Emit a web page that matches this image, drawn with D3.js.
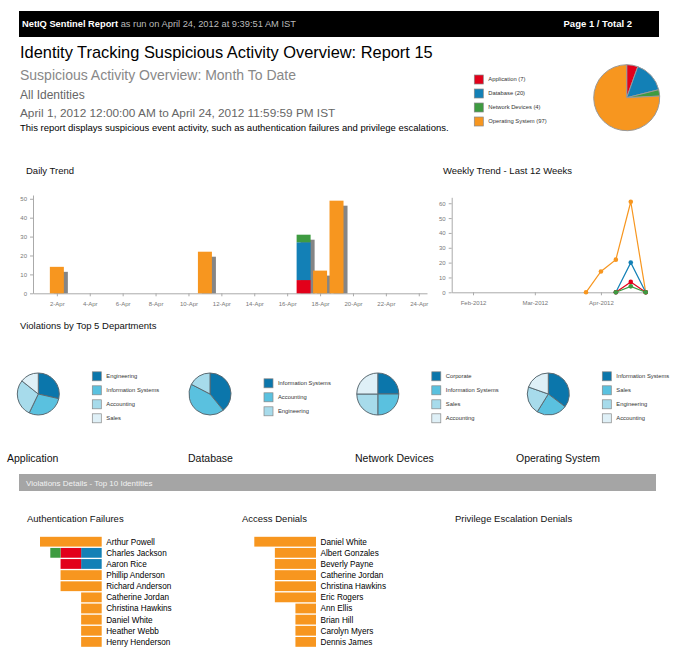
<!DOCTYPE html>
<html>
<head>
<meta charset="utf-8">
<script src="https://cdn.jsdelivr.net/npm/d3@7"></script>
<style>
  body { margin: 0; background: #fff; }
  svg { font-family: 'Liberation Sans', Arial, sans-serif; }
  .axis path, .axis line { stroke: #aaa; }
  .axis text { fill: #777; font-size: 6px; }
</style>
</head>
<body>
<svg width="675" height="657"></svg>
<script>
// categories and totals
const categories = ['Application', 'Database', 'Network Devices', 'Operating System'];
const categoryTotals = [7, 20, 4, 97];
const categoryColors = ['#e2001a', '#1380b6', '#3e9b41', '#f7961f'];

// daily trend (day of April)
const dailyDays = [2, 11, 17, 18, 19];
const dailyApp = [0, 0, 7, 0, 0];
const dailyDb = [0, 0, 20, 0, 0];
const dailyNet = [0, 0, 4, 0, 0];
const dailyOs = [14, 22, 0, 12, 49];
const dailyTicks = [2, 4, 6, 8, 10, 12, 14, 16, 18, 20, 22, 24];

// weekly trend
const weekDates = ['2012-03-25', '2012-04-01', '2012-04-08', '2012-04-15', '2012-04-22'];
const weeklyApp = [null, null, 0, 7, 0];
const weeklyDb = [null, null, 0, 20, 0];
const weeklyNet = [null, null, 0, 4, 0];
const weeklyOs = [0, 14, 22, 61, 0];

// departments
const appDepts = ['Engineering', 'Information Systems', 'Accounting', 'Sales'];
const appDeptValues = [2, 2, 2, 1];
const dbDepts = ['Information Systems', 'Accounting', 'Engineering'];
const dbDeptValues = [9, 10, 4];
const netDepts = ['Corporate', 'Information Systems', 'Sales', 'Accounting'];
const netDeptValues = [1, 1, 1, 1];
const osDepts = ['Information Systems', 'Sales', 'Engineering', 'Accounting'];
const osDeptValues = [18, 12, 11, 10];
const deptColors = ['#0b76ab', '#5ac1df', '#a7dbeb', '#dff0f7'];

// top identities
const authNames = ['Arthur Powell', 'Charles Jackson', 'Aaron Rice', 'Phillip Anderson', 'Richard Anderson',
  'Catherine Jordan', 'Christina Hawkins', 'Daniel White', 'Heather Webb', 'Henry Henderson'];
const authApp = [0, 2, 2, 0, 0, 0, 0, 0, 0, 0];
const authDb = [0, 2, 2, 0, 0, 0, 0, 0, 0, 0];
const authNet = [0, 1, 0, 0, 0, 0, 0, 0, 0, 0];
const authOs = [6, 0, 0, 4, 4, 2, 2, 2, 2, 2];
const accessNames = ['Daniel White', 'Albert Gonzales', 'Beverly Payne', 'Catherine Jordan', 'Christina Hawkins',
  'Eric Rogers', 'Ann Ellis', 'Brian Hill', 'Carolyn Myers', 'Dennis James'];
const accessOs = [6, 4, 4, 4, 4, 4, 2, 2, 2, 2];

const svg = d3.select('svg');

// ---- header ----
svg.append('rect').attr('x', 19).attr('y', 11).attr('width', 640).attr('height', 26).attr('fill', '#000');
const hdr = svg.append('text').attr('x', 22).attr('y', 27).attr('font-size', 9.3).attr('font-weight', 'bold');
hdr.append('tspan').attr('fill', '#fff').text('NetIQ Sentinel Report');
hdr.append('tspan').attr('fill', '#bbb').attr('font-weight', 'normal').text(' as run on April 24, 2012 at 9:39:51 AM IST');
svg.append('text').attr('x', 632).attr('y', 27).attr('text-anchor', 'end').attr('font-size', 9.5)
  .attr('font-weight', 'bold').attr('fill', '#fff').text('Page 1 / Total 2');

svg.append('text').attr('x', 20).attr('y', 58).attr('font-size', 16.4).attr('fill', '#000')
  .text('Identity Tracking Suspicious Activity Overview: Report 15');
svg.append('text').attr('x', 20).attr('y', 80).attr('font-size', 14).attr('fill', '#888')
  .text('Suspicious Activity Overview: Month To Date');
svg.append('text').attr('x', 20).attr('y', 99).attr('font-size', 12).attr('fill', '#666')
  .text('All Identities');
svg.append('text').attr('x', 20).attr('y', 117).attr('font-size', 11.8).attr('fill', '#666')
  .text('April 1, 2012 12:00:00 AM to April 24, 2012 11:59:59 PM IST');
svg.append('text').attr('x', 20).attr('y', 131).attr('font-size', 9.5).attr('fill', '#000')
  .text('This report displays suspicious event activity, such as authentication failures and privilege escalations.');

// ---- pie helper ----
function drawPie(cx, cy, r, names, values, colors, legX, legCy, labelFn, stroke) {
  const pie = d3.pie().sort(null);
  const arc = d3.arc().innerRadius(0).outerRadius(r);
  const pg = svg.append('g').attr('transform', 'translate(' + cx + ',' + cy + ')');
  pg.selectAll('path')
    .data(pie(values))
    .enter()
    .append('path')
    .attr('d', arc)
    .attr('fill', function (d, i) { return colors[i]; })
    .attr('stroke', stroke)
    .attr('stroke-width', 1);

  const step = 14;
  const y0 = legCy - (names.length - 1) * step / 2;
  const lg = svg.append('g').selectAll('g')
    .data(names)
    .enter()
    .append('g')
    .attr('transform', function (d, i) { return 'translate(' + legX + ',' + (y0 + i * step) + ')'; });
  lg.append('rect')
    .attr('x', 0).attr('y', -4.5).attr('width', 9).attr('height', 9)
    .attr('fill', function (d, i) { return colors[i]; })
    .attr('stroke', '#888').attr('stroke-width', 0.7);
  lg.append('text')
    .attr('x', 14).attr('dy', '0.32em')
    .attr('font-size', 5.8).attr('fill', '#333')
    .text(function (d, i) { return labelFn(d, i); });
}

// top summary pie
drawPie(626.7, 97.7, 33, categories, categoryTotals, categoryColors, 474.3, 100.5,
  function (d, i) { return d + ' (' + categoryTotals[i] + ')'; }, '#999');

// ---- daily trend ----
svg.append('text').attr('x', 26).attr('y', 174).attr('font-size', 9.5).attr('fill', '#111').text('Daily Trend');

const xDay = d3.scaleLinear().domain([0.55, 24.5]).range([33, 427]);
const yDay = d3.scaleLinear().domain([0, 52]).range([293.3, 195]);

svg.append('g').attr('class', 'axis').attr('transform', 'translate(0,293.3)')
  .call(d3.axisBottom(xDay).tickValues(dailyTicks).tickSize(3).tickSizeOuter(0)
    .tickFormat(function (d) { return d + '-Apr'; }))
  .selectAll('text').attr('dy', '1.1em');
svg.append('g').attr('class', 'axis').attr('transform', 'translate(33,0)')
  .call(d3.axisLeft(yDay).tickValues([0, 10, 20, 30, 40, 50]).tickSize(3).tickSizeOuter(0));

const dailyStack = d3.stack().keys([0, 1, 2, 3])
  .value(function (d, k) { return d[k]; })(dailyDays.map(function (day, i) {
    return [dailyApp[i], dailyDb[i], dailyNet[i], dailyOs[i]];
  }));
const barW = 14;
// shadows
svg.append('g').selectAll('rect')
  .data(dailyDays)
  .enter()
  .append('rect')
  .attr('x', function (d) { return xDay(d) - barW / 2 + 4; })
  .attr('y', function (d, i) { return yDay(dailyApp[i] + dailyDb[i] + dailyNet[i] + dailyOs[i]) + 5; })
  .attr('width', barW)
  .attr('height', function (d, i) { return yDay(0) - yDay(dailyApp[i] + dailyDb[i] + dailyNet[i] + dailyOs[i]) - 5; })
  .attr('fill', '#858585');
dailyStack.forEach(function (layer, k) {
  svg.append('g').selectAll('rect')
    .data(layer)
    .enter()
    .append('rect')
    .attr('x', function (d, i) { return xDay(dailyDays[i]) - barW / 2; })
    .attr('y', function (d) { return yDay(d[1]); })
    .attr('width', barW)
    .attr('height', function (d) { return yDay(d[0]) - yDay(d[1]); })
    .attr('fill', categoryColors[k]);
});

// ---- weekly trend ----
svg.append('text').attr('x', 443).attr('y', 174).attr('font-size', 9.5).attr('fill', '#111')
  .text('Weekly Trend - Last 12 Weeks');
const parse = d3.timeParse('%Y-%m-%d');
const xWeek = d3.scaleTime().domain([parse('2012-01-22'), parse('2012-04-22')]).range([451.7, 645.7]);
const yWeek = d3.scaleLinear().domain([0, 64]).range([292.3, 197.3]);
svg.append('g').attr('class', 'axis').attr('transform', 'translate(0,292.3)')
  .call(d3.axisBottom(xWeek).ticks(d3.timeMonth.every(1)).tickSize(3).tickSizeOuter(0)
    .tickFormat(d3.timeFormat('%b-%Y')))
  .selectAll('text').attr('dy', '1.1em');
svg.append('g').attr('class', 'axis').attr('transform', 'translate(451.7,0)')
  .call(d3.axisLeft(yWeek).tickValues([0, 10, 20, 30, 40, 50, 60]).tickSize(3).tickSizeOuter(0));

const weeklySeries = [weeklyNet, weeklyApp, weeklyDb, weeklyOs];
const weeklyColors = [categoryColors[2], categoryColors[0], categoryColors[1], categoryColors[3]];
const line = d3.line()
  .defined(function (d) { return d != null; })
  .x(function (d, i) { return xWeek(parse(weekDates[i])); })
  .y(function (d) { return yWeek(d); });
weeklySeries.slice().reverse().forEach(function (s, j) {
  const col = weeklyColors[weeklySeries.length - 1 - j];
  svg.append('path').attr('d', line(s)).attr('fill', 'none').attr('stroke', col).attr('stroke-width', 1.2);
  svg.append('g').selectAll('circle')
    .data(s.map(function (v, i) { return { v: v, i: i }; }).filter(function (d) { return d.v != null; }))
    .enter()
    .append('circle')
    .attr('cx', function (d) { return xWeek(parse(weekDates[d.i])); })
    .attr('cy', function (d) { return yWeek(d.v); })
    .attr('r', 2.3)
    .attr('fill', col);
});

// ---- department pies ----
svg.append('text').attr('x', 20).attr('y', 329).attr('font-size', 9.5).attr('fill', '#111')
  .text('Violations by Top 5 Departments');
const deptSets = [
  { names: appDepts, values: appDeptValues, cx: 38.3 },
  { names: dbDepts, values: dbDeptValues, cx: 210 },
  { names: netDepts, values: netDeptValues, cx: 377.8 },
  { names: osDepts, values: osDeptValues, cx: 548.3 }
];
deptSets.forEach(function (s) {
  drawPie(s.cx, 394, 21, s.names, s.values, deptColors, s.cx + 54, 397.3,
    function (d) { return d; }, '#5a6a72');
});
const catLabelX = [7, 188, 355, 516];
categories.forEach(function (c, i) {
  svg.append('text').attr('x', catLabelX[i]).attr('y', 462).attr('font-size', 10.5).attr('fill', '#111').text(c);
});

// ---- violations details ----
svg.append('rect').attr('x', 19).attr('y', 474).attr('width', 637).attr('height', 17).attr('fill', '#a5a5a5');
svg.append('text').attr('x', 26).attr('y', 486).attr('font-size', 8).attr('fill', '#f2f2f2')
  .text('Violations Details - Top 10 Identities');

svg.append('text').attr('x', 27).attr('y', 522).attr('font-size', 9.5).attr('fill', '#111').text('Authentication Failures');
svg.append('text').attr('x', 242).attr('y', 522).attr('font-size', 9.5).attr('fill', '#111').text('Access Denials');
svg.append('text').attr('x', 455).attr('y', 522).attr('font-size', 9.5).attr('fill', '#111').text('Privilege Escalation Denials');

const xLen = d3.scaleLinear().domain([0, 6]).range([0, 61.7]);
const yRow = d3.scaleBand().domain(d3.range(10)).range([536.8, 646.8]).paddingInner(0.12);

function drawBarList(right, names, layers, colors) {
  const stack = d3.stack().keys(d3.range(layers.length))
    .value(function (d, k) { return d[k]; })(names.map(function (n, i) {
      return layers.map(function (l) { return l[i]; });
    }));
  stack.forEach(function (layer, k) {
    svg.append('g').selectAll('rect')
      .data(layer)
      .enter()
      .append('rect')
      .attr('x', function (d) { return right - xLen(d[1]); })
      .attr('y', function (d, i) { return yRow(i); })
      .attr('width', function (d) { return xLen(d[1]) - xLen(d[0]); })
      .attr('height', yRow.bandwidth())
      .attr('fill', colors[k]);
  });
  svg.append('g').selectAll('text')
    .data(names)
    .enter()
    .append('text')
    .attr('x', right + 4.5)
    .attr('y', function (d, i) { return yRow(i) + yRow.bandwidth() / 2; })
    .attr('dy', '0.35em')
    .attr('font-size', 8.2)
    .attr('fill', '#000')
    .text(function (d) { return d; });
}
// stacked right-to-left: DB, App, Net, OS
drawBarList(101.7, authNames, [authDb, authApp, authNet, authOs],
  [categoryColors[1], categoryColors[0], categoryColors[2], categoryColors[3]]);
drawBarList(316, accessNames, [accessOs], [categoryColors[3]]);
</script>
</body>
</html>
